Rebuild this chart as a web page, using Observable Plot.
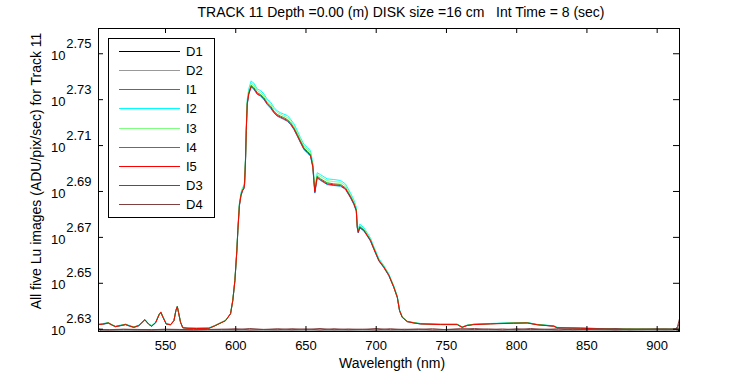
<!DOCTYPE html>
<html><head><meta charset="utf-8">
<script src="https://cdn.jsdelivr.net/npm/d3@7"></script>
<script src="https://cdn.jsdelivr.net/npm/@observablehq/plot@0.6"></script>
<style>
body{margin:0;background:#fff;}
#chart{position:relative;width:750px;height:375px;font-family:"Liberation Sans",Arial,sans-serif;}
svg text{white-space:pre;}
</style>
</head><body><div id="chart"></div>
<script>
// Wavelength grid (nm) for the five illuminated images
const wavelength = [502.3, 505, 509.3, 512, 514.4, 518, 521.6, 524.5, 527.5, 531,
 535.3, 538, 540.1, 543, 545.5, 546.7, 548.3, 550.5, 553.6, 556,
 557.4, 558.4, 559.3, 560.7, 562.3, 566, 572, 580.9, 585, 588,
 592.7, 596.3, 597.9, 599.4, 600.8, 601.5, 602.6, 603.7, 604.8, 605.8,
 606.3, 607, 607.5, 608.2, 609.3, 611, 612.2, 612.9, 615.3, 617.7,
 620, 622.4, 624.8, 627.1, 629.5, 631.9, 634.2, 636.7, 639, 641.4,
 643.8, 646.1, 648.5, 650.9, 653.2, 654.4, 654.9, 655.6, 656.3, 658,
 660.4, 665.1, 669.8, 674.6, 678.1, 681.7, 684.1, 685.8, 686.5, 687.2,
 688.3, 691.2, 693.6, 695.9, 698.3, 701.9, 705.4, 709, 712.5, 715,
 716.6, 718.5, 722.1, 726.8, 731.5, 745.7, 757.6, 761.2, 764.8, 769.5,
 781.4, 797.9, 807.5, 814.6, 826.4, 828.8, 845.4, 869.1, 911.8, 915.9];

// log10 of Lu (ADU/pix/sec)
const I1 = [2.6320, 2.6321, 2.6326, 2.6318, 2.6311, 2.6315, 2.6320, 2.6313, 2.6308, 2.6315,
 2.6340, 2.6322, 2.6312, 2.6328, 2.6363, 2.6372, 2.6350, 2.6322, 2.6319, 2.6336,
 2.6380, 2.6397, 2.6371, 2.6330, 2.6306, 2.6304, 2.6303, 2.6304, 2.6315, 2.6324,
 2.6338, 2.6366, 2.6423, 2.6510, 2.6640, 2.6727, 2.6836, 2.6880, 2.6902, 2.6911,
 2.6931, 2.7039, 2.7163, 2.7279, 2.7323, 2.7355, 2.7349, 2.7345, 2.7323, 2.7315,
 2.7301, 2.7279, 2.7263, 2.7243, 2.7228, 2.7221, 2.7214, 2.7206, 2.7192, 2.7170,
 2.7141, 2.7112, 2.7083, 2.7068, 2.7054, 2.7019, 2.7003, 2.6945, 2.6893, 2.6959,
 2.6948, 2.6930, 2.6926, 2.6923, 2.6909, 2.6872, 2.6843, 2.6814, 2.6741, 2.6719,
 2.6741, 2.6728, 2.6706, 2.6684, 2.6648, 2.6597, 2.6568, 2.6533, 2.6482, 2.6438,
 2.6380, 2.6351, 2.6333, 2.6327, 2.6323, 2.6321, 2.6321, 2.6309, 2.6317, 2.6321,
 2.6324, 2.6327, 2.6328, 2.6320, 2.6313, 2.6306, 2.6304, 2.6300, 2.6300, 2.6300];
const I2 = [2.6322, 2.6324, 2.6329, 2.6320, 2.6313, 2.6318, 2.6322, 2.6316, 2.6310, 2.6318,
 2.6343, 2.6324, 2.6315, 2.6331, 2.6366, 2.6376, 2.6353, 2.6325, 2.6321, 2.6339,
 2.6383, 2.6401, 2.6374, 2.6332, 2.6308, 2.6306, 2.6305, 2.6306, 2.6316, 2.6325,
 2.6339, 2.6369, 2.6428, 2.6516, 2.6649, 2.6738, 2.6849, 2.6894, 2.6916, 2.6926,
 2.6946, 2.7058, 2.7184, 2.7302, 2.7348, 2.7382, 2.7374, 2.7372, 2.7346, 2.7340,
 2.7325, 2.7302, 2.7289, 2.7267, 2.7251, 2.7243, 2.7237, 2.7231, 2.7215, 2.7195,
 2.7165, 2.7134, 2.7106, 2.7092, 2.7077, 2.7040, 2.7025, 2.6966, 2.6917, 2.6982,
 2.6973, 2.6955, 2.6952, 2.6948, 2.6933, 2.6893, 2.6863, 2.6832, 2.6758, 2.6735,
 2.6758, 2.6742, 2.6720, 2.6697, 2.6660, 2.6608, 2.6578, 2.6541, 2.6489, 2.6444,
 2.6385, 2.6355, 2.6335, 2.6329, 2.6325, 2.6322, 2.6322, 2.6310, 2.6318, 2.6322,
 2.6325, 2.6328, 2.6329, 2.6321, 2.6315, 2.6308, 2.6305, 2.6301, 2.6301, 2.6301];
const I3 = [2.6321, 2.6323, 2.6328, 2.6319, 2.6312, 2.6317, 2.6321, 2.6315, 2.6309, 2.6317,
 2.6342, 2.6323, 2.6314, 2.6330, 2.6365, 2.6375, 2.6352, 2.6324, 2.6320, 2.6338,
 2.6382, 2.6400, 2.6373, 2.6331, 2.6307, 2.6305, 2.6304, 2.6305, 2.6315, 2.6324,
 2.6338, 2.6368, 2.6427, 2.6514, 2.6647, 2.6735, 2.6845, 2.6889, 2.6911, 2.6921,
 2.6941, 2.7052, 2.7177, 2.7294, 2.7339, 2.7372, 2.7365, 2.7362, 2.7339, 2.7331,
 2.7317, 2.7295, 2.7281, 2.7259, 2.7244, 2.7237, 2.7229, 2.7222, 2.7208, 2.7186,
 2.7157, 2.7127, 2.7098, 2.7084, 2.7069, 2.7033, 2.7017, 2.6959, 2.6908, 2.6975,
 2.6965, 2.6947, 2.6943, 2.6940, 2.6925, 2.6886, 2.6856, 2.6826, 2.6752, 2.6730,
 2.6752, 2.6737, 2.6715, 2.6692, 2.6656, 2.6604, 2.6575, 2.6538, 2.6487, 2.6442,
 2.6383, 2.6354, 2.6334, 2.6328, 2.6324, 2.6321, 2.6321, 2.6309, 2.6317, 2.6321,
 2.6324, 2.6327, 2.6328, 2.6320, 2.6314, 2.6307, 2.6305, 2.6301, 2.6300, 2.6301];
const I4 = [2.6321, 2.6322, 2.6328, 2.6318, 2.6312, 2.6316, 2.6321, 2.6314, 2.6309, 2.6316,
 2.6342, 2.6322, 2.6314, 2.6329, 2.6365, 2.6373, 2.6352, 2.6323, 2.6320, 2.6337,
 2.6382, 2.6398, 2.6373, 2.6330, 2.6307, 2.6304, 2.6304, 2.6304, 2.6315, 2.6324,
 2.6337, 2.6368, 2.6426, 2.6513, 2.6645, 2.6732, 2.6842, 2.6885, 2.6907, 2.6916,
 2.6936, 2.7046, 2.7170, 2.7287, 2.7331, 2.7362, 2.7357, 2.7352, 2.7331, 2.7322,
 2.7309, 2.7286, 2.7272, 2.7250, 2.7236, 2.7228, 2.7222, 2.7213, 2.7200, 2.7177,
 2.7149, 2.7119, 2.7091, 2.7075, 2.7062, 2.7026, 2.7011, 2.6952, 2.6902, 2.6967,
 2.6955, 2.6938, 2.6933, 2.6931, 2.6916, 2.6879, 2.6849, 2.6820, 2.6747, 2.6725,
 2.6747, 2.6733, 2.6711, 2.6689, 2.6653, 2.6601, 2.6572, 2.6536, 2.6485, 2.6440,
 2.6382, 2.6353, 2.6334, 2.6328, 2.6324, 2.6321, 2.6321, 2.6309, 2.6317, 2.6321,
 2.6324, 2.6327, 2.6328, 2.6320, 2.6314, 2.6307, 2.6305, 2.6301, 2.6300, 2.6300];
const I5 = [2.6320, 2.6322, 2.6327, 2.6318, 2.6311, 2.6316, 2.6320, 2.6314, 2.6308, 2.6316,
 2.6341, 2.6322, 2.6313, 2.6329, 2.6364, 2.6374, 2.6351, 2.6323, 2.6319, 2.6337,
 2.6381, 2.6399, 2.6372, 2.6330, 2.6306, 2.6304, 2.6303, 2.6304, 2.6314, 2.6323,
 2.6337, 2.6367, 2.6425, 2.6512, 2.6643, 2.6730, 2.6839, 2.6882, 2.6904, 2.6913,
 2.6933, 2.7042, 2.7166, 2.7282, 2.7326, 2.7358, 2.7352, 2.7348, 2.7326, 2.7318,
 2.7304, 2.7282, 2.7267, 2.7246, 2.7231, 2.7224, 2.7217, 2.7209, 2.7195, 2.7173,
 2.7144, 2.7115, 2.7086, 2.7071, 2.7057, 2.7022, 2.7006, 2.6948, 2.6897, 2.6962,
 2.6951, 2.6933, 2.6929, 2.6926, 2.6912, 2.6875, 2.6846, 2.6817, 2.6744, 2.6722,
 2.6744, 2.6730, 2.6708, 2.6686, 2.6650, 2.6599, 2.6570, 2.6534, 2.6483, 2.6439,
 2.6381, 2.6352, 2.6333, 2.6327, 2.6323, 2.6320, 2.6320, 2.6308, 2.6316, 2.6320,
 2.6323, 2.6326, 2.6327, 2.6319, 2.6313, 2.6306, 2.6304, 2.6300, 2.6300, 2.6300];

// Wavelength grid (nm) for the dark images
const darkWavelength = [502.3, 504, 510, 520, 530, 540, 550, 560, 570, 580,
 590, 600, 610, 620, 630, 640, 650, 660, 670, 680,
 690, 700, 710, 720, 730, 740, 750, 760, 770, 780,
 790, 800, 810, 820, 830, 840, 850, 860, 870, 880,
 890, 900, 905, 910, 913, 914.5, 915.9];
const D1 = [2.6304, 2.6292, 2.6291, 2.6291, 2.6292, 2.6291, 2.6291, 2.6292, 2.6291, 2.6291,
 2.6291, 2.6292, 2.6291, 2.6291, 2.6291, 2.6292, 2.6291, 2.6291, 2.6291, 2.6292,
 2.6291, 2.6291, 2.6291, 2.6292, 2.6291, 2.6291, 2.6291, 2.6292, 2.6291, 2.6291,
 2.6291, 2.6292, 2.6291, 2.6291, 2.6291, 2.6292, 2.6291, 2.6291, 2.6291, 2.6292,
 2.6291, 2.6291, 2.6291, 2.6292, 2.6291, 2.6293, 2.6296];
const D2 = [2.6297, 2.6295, 2.6294, 2.6295, 2.6296, 2.6295, 2.6294, 2.6295, 2.6295, 2.6296,
 2.6294, 2.6295, 2.6296, 2.6295, 2.6294, 2.6295, 2.6296, 2.6295, 2.6294, 2.6295,
 2.6296, 2.6295, 2.6294, 2.6295, 2.6296, 2.6295, 2.6294, 2.6295, 2.6296, 2.6295,
 2.6294, 2.6295, 2.6296, 2.6295, 2.6294, 2.6295, 2.6296, 2.6295, 2.6294, 2.6295,
 2.6296, 2.6295, 2.6294, 2.6295, 2.6297, 2.6300, 2.6310];
const D3 = [2.6299, 2.6298, 2.6297, 2.6299, 2.6298, 2.6297, 2.6299, 2.6298, 2.6297, 2.6298,
 2.6299, 2.6302, 2.6297, 2.6299, 2.6302, 2.6298, 2.6301, 2.6297, 2.6302, 2.6298,
 2.6300, 2.6297, 2.6302, 2.6298, 2.6301, 2.6297, 2.6299, 2.6302, 2.6298, 2.6301,
 2.6297, 2.6302, 2.6298, 2.6300, 2.6297, 2.6301, 2.6298, 2.6302, 2.6297, 2.6300,
 2.6298, 2.6301, 2.6298, 2.6299, 2.6300, 2.6312, 2.6346];
const D4 = [2.6300, 2.6299, 2.6298, 2.6300, 2.6299, 2.6298, 2.6300, 2.6299, 2.6298, 2.6299,
 2.6300, 2.6298, 2.6303, 2.6299, 2.6298, 2.6302, 2.6299, 2.6303, 2.6298, 2.6301,
 2.6299, 2.6303, 2.6298, 2.6300, 2.6299, 2.6302, 2.6298, 2.6300, 2.6303, 2.6299,
 2.6301, 2.6298, 2.6303, 2.6299, 2.6302, 2.6298, 2.6300, 2.6299, 2.6303, 2.6298,
 2.6300, 2.6299, 2.6301, 2.6300, 2.6301, 2.6305, 2.6330];

const seriesNames = ["D1", "D2", "I1", "I2", "I3", "I4", "I5", "D3", "D4"];
const seriesColors = ["#000000", "#999999", "#0080ff", "#00ffff", "#80ff80", "#14a814", "#ff0000", "#804040", "#804040"];
const xTicks = [550, 600, 650, 700, 750, 800, 850, 900];
const yTicks = [2.63, 2.65, 2.67, 2.69, 2.71, 2.73, 2.75];
const titleText = "TRACK 11 Depth =0.00 (m) DISK size =16 cm   Int Time = 8 (sec)";
const xLabel = "Wavelength (nm)";
const yLabel = "All five Lu images (ADU/pix/sec) for Track 11";

const seriesData = {D1, D2, I1, I2, I3, I4, I5, D3, D4};
const seriesGrid = {D1: darkWavelength, D2: darkWavelength, D3: darkWavelength, D4: darkWavelength,
  I1: wavelength, I2: wavelength, I3: wavelength, I4: wavelength, I5: wavelength};

const W = 750, H = 375;
const mL = 98, mR = 71, mT = 28, mB = 44;
const fw = W - mL - mR, fh = H - mT - mB;

const lineMarks = seriesNames.map(name => {
  const grid = seriesGrid[name], vals = seriesData[name];
  const rows = grid.map((w, i) => ({series: name, w, v: vals[i]}));
  return Plot.line(rows, {x: "w", y: "v", stroke: "series", strokeWidth: 1, clip: true});
});

const plot = Plot.plot({
  width: W, height: H,
  marginLeft: mL, marginRight: mR, marginTop: mT, marginBottom: mB,
  style: {fontFamily: "'Liberation Sans', Arial, sans-serif", fontSize: "13px", background: "#fff", color: "#000"},
  x: {domain: [502.3, 915.9]},
  y: {domain: [2.629, 2.761]},
  color: {domain: seriesNames, range: seriesColors},
  marks: [
    ...lineMarks,
    Plot.frame({stroke: "#000", strokeWidth: 1}),
    Plot.tickX(xTicks, {x: d => d, insetTop: fh - 5, stroke: "#000"}),
    Plot.tickX(xTicks, {x: d => d, insetBottom: fh - 5, stroke: "#000"}),
    Plot.tickY(yTicks, {y: d => d, insetRight: fw - 5, stroke: "#000"}),
    Plot.tickY(yTicks, {y: d => d, insetLeft: fw - 6, stroke: "#000"}),
    Plot.axisX({ticks: xTicks, tickSize: 0, tickPadding: 9, fontSize: 13, label: null, tickFormat: d => String(d)}),
    Plot.axisY({ticks: yTicks, tickSize: 0, tickPadding: 33, fontSize: 13, label: null, tickFormat: () => "10", dy: 2}),
    Plot.axisY({ticks: yTicks, tickSize: 0, tickPadding: 7, fontSize: 13, label: null, tickFormat: d => d.toFixed(2), dy: -10}),
    Plot.text([titleText], {frameAnchor: "top", dy: -16, dx: 12, lineAnchor: "middle", textAnchor: "middle", fontSize: 14}),
    Plot.text([xLabel], {frameAnchor: "bottom", dy: 32, dx: 3, lineAnchor: "middle", textAnchor: "middle", fontSize: 14}),
    Plot.text([yLabel], {frameAnchor: "left", rotate: -90, dx: -62, dy: -9, lineAnchor: "middle", textAnchor: "middle", fontSize: 14})
  ]
});

// Legend box (MATLAB style, inside the axes)
const svg = d3.select(plot);
const lg = svg.append("g")
  .attr("font-family", "'Liberation Sans', Arial, sans-serif")
  .attr("font-size", 13)
  .attr("text-anchor", "start");
lg.append("rect").attr("x", 108.5).attr("y", 38.5).attr("width", 106).attr("height", 179)
  .attr("fill", "#fff").attr("stroke", "#000");
seriesNames.forEach((name, i) => {
  const y = Math.round(50.7 + i * 19.2) + 0.5;
  lg.append("line").attr("x1", 119).attr("x2", 180).attr("y1", y).attr("y2", y)
    .attr("stroke", seriesColors[i]).attr("stroke-width", 1);
  lg.append("text").attr("x", 186).attr("y", y).attr("dy", "0.35em")
    .attr("text-anchor", "start").attr("fill", "#000").text(name);
});

document.getElementById("chart").appendChild(plot);
</script>
</body></html>
